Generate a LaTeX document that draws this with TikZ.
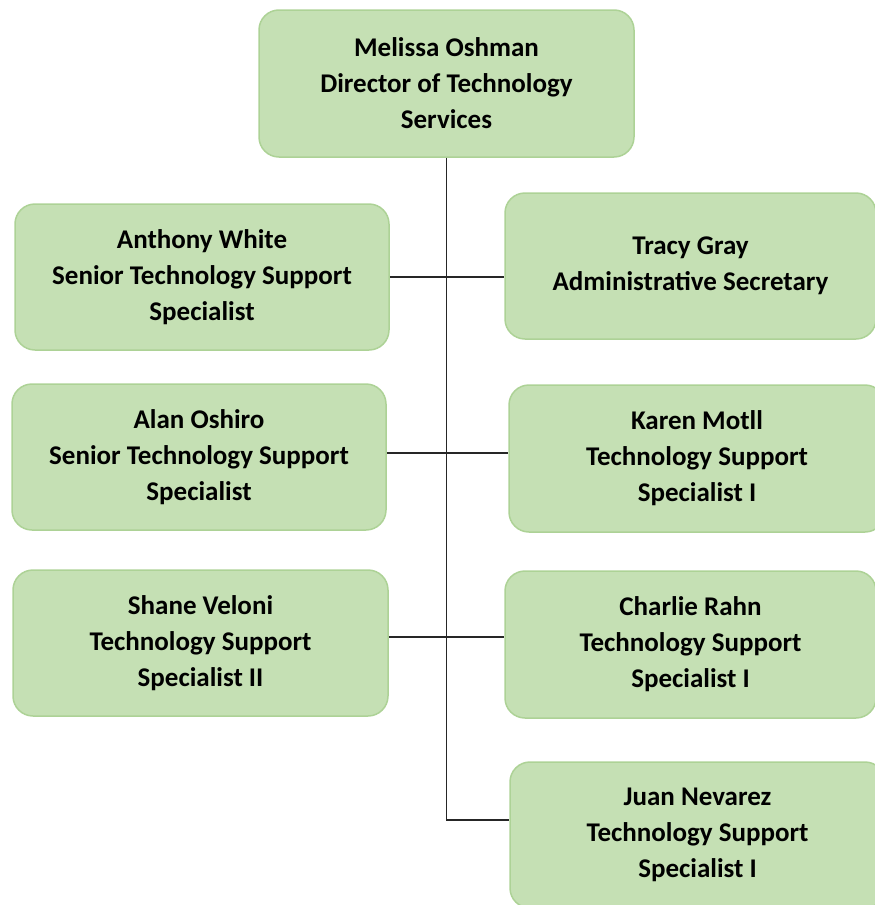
\documentclass[tikz,border=0pt]{standalone}
\usepackage{fontspec}
\setmainfont{Carlito}
\definecolor{boxfill}{HTML}{C5E0B4}
\definecolor{boxline}{HTML}{ADD296}
\tikzset{
  staffbox/.style={rectangle, rounded corners=20pt, draw=boxline, line width=1.5pt, fill=boxfill,
    minimum width=374pt, minimum height=146pt, inner sep=0pt, align=center,
    font=\fontsize{27}{36}\selectfont\bfseries},
  orgline/.style={draw=black!85, line width=1.5pt}
}
\begin{document}
\begin{tikzpicture}[x=1pt, y=-1pt]
  \useasboundingbox (0,0) rectangle (875,905);

  % Director
  \node[staffbox, minimum width=375pt, minimum height=147pt] (melissa) at (446.5,83.5)
    {Melissa Oshman\\Director of Technology\\Services};

  % Left column
  \node[staffbox] (anthony) at (202,277) {Anthony White\\Senior Technology Support\\Specialist};
  \node[staffbox] (alan) at (199,457) {Alan Oshiro\\Senior Technology Support\\Specialist};
  \node[staffbox, minimum width=375pt] (shane) at (200.5,643) {Shane Veloni\\Technology Support\\Specialist II};

  % Right column
  \node[staffbox, minimum width=371pt] (tracy) at (690.5,266) {Tracy Gray\\Administrative Secretary};
  \node[staffbox, minimum width=376pt, minimum height=147pt] (karen) at (697,458.5) {Karen Motll\\Technology Support\\Specialist I};
  \node[staffbox, minimum width=371pt, minimum height=147pt] (charlie) at (690.5,644.5) {Charlie Rahn\\Technology Support\\Specialist I};
  \node[staffbox, minimum width=375pt] (juan) at (697.5,835) {Juan Nevarez\\Technology Support\\Specialist I};

  % Connectors
  \coordinate (trunkend) at (446.5,820);
  \draw[orgline] (melissa.south) -- (trunkend) -- (trunkend -| juan.west);
  \draw[orgline] (anthony.east) -- (anthony.east -| tracy.west);
  \draw[orgline] ([yshift=4pt]alan.east) -- ([yshift=4pt]alan.east -| karen.west);
  \draw[orgline] ([yshift=6pt]shane.east) -- ([yshift=6pt]shane.east -| charlie.west);
\end{tikzpicture}
\end{document}
